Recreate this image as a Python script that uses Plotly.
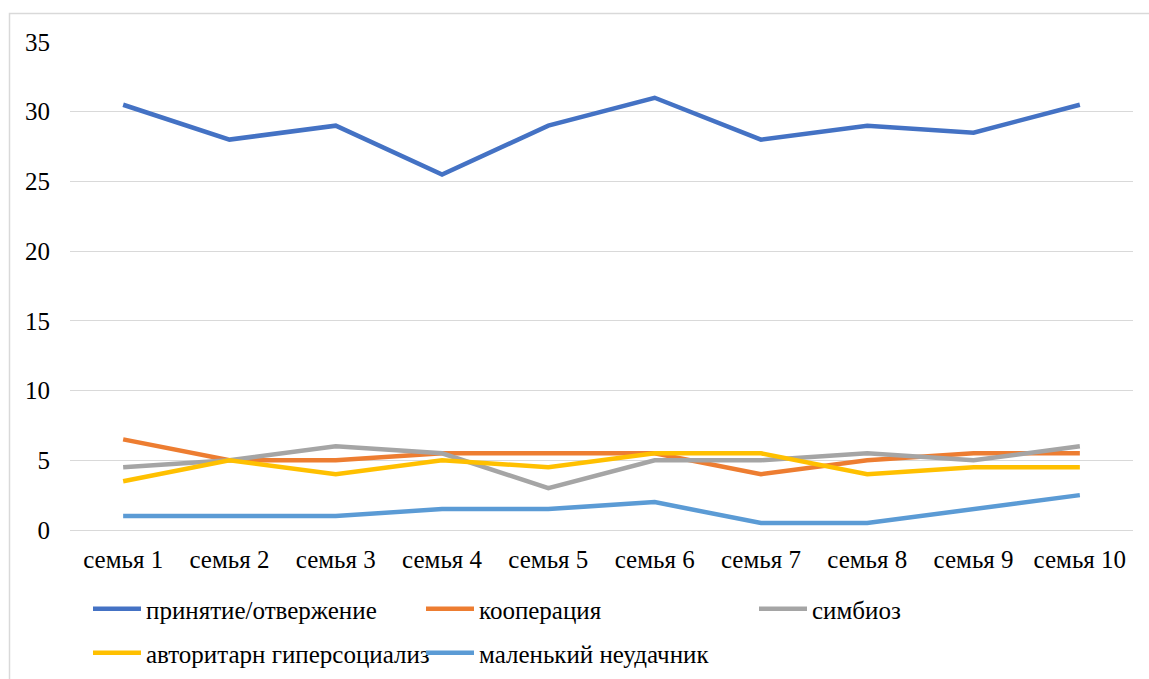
import plotly.graph_objects as go

categories = ["семья 1", "семья 2", "семья 3", "семья 4", "семья 5",
              "семья 6", "семья 7", "семья 8", "семья 9", "семья 10"]

series_names = ["принятие/отвержение", "кооперация", "симбиоз",
                "авторитарн гиперсоциализ", "маленький неудачник"]

acceptance = [30.5, 28, 29, 25.5, 29, 31, 28, 29, 28.5, 30.5]
cooperation = [6.5, 5, 5, 5.5, 5.5, 5.5, 4, 5, 5.5, 5.5]
symbiosis = [4.5, 5, 6, 5.5, 3, 5, 5, 5.5, 5, 6]
authoritarian = [3.5, 5, 4, 5, 4.5, 5.5, 5.5, 4, 4.5, 4.5]
little_loser = [1, 1, 1, 1.5, 1.5, 2, 0.5, 0.5, 1.5, 2.5]

y_ticks = [0, 5, 10, 15, 20, 25, 30, 35]

series_values = [acceptance, cooperation, symbiosis, authoritarian, little_loser]
colors = ["#4472C4", "#ED7D31", "#A5A5A5", "#FFC000", "#5B9BD5"]
legend_ids = ["legend", "legend", "legend", "legend2", "legend2"]

W, H = 1149, 679
ML, MR, MT, MB = 70, 16, 42, 149
pw, ph = W - ML - MR, H - MT - MB

def px_x(p):
    return (p - ML) / pw

def px_y(p):
    return (H - MB - p) / ph

FONT = "Liberation Serif, Times New Roman, serif"
FS = 25

fig = go.Figure()
for name, vals, col, lg in zip(series_names, series_values, colors, legend_ids):
    fig.add_trace(go.Scatter(
        x=categories, y=vals, mode="lines", name=name,
        line=dict(color=col, width=4.5), legend=lg,
    ))

legend_common = dict(
    orientation="h", xanchor="left", yanchor="middle",
    xref="container", yref="container",
    font=dict(family=FONT, size=FS, color="#000000"),
    itemwidth=48, entrywidth=270, entrywidthmode="pixels",
    bgcolor="rgba(0,0,0,0)", borderwidth=0, traceorder="normal",
    itemclick=False, itemdoubleclick=False,
)

fig.update_layout(
    width=W, height=H,
    margin=dict(l=ML, r=MR, t=MT, b=MB, pad=0, autoexpand=False),
    paper_bgcolor="white", plot_bgcolor="white",
    font=dict(family=FONT, size=FS, color="#000000"),
    showlegend=True,
    legend=dict(x=88 / W, y=1 - 609 / H, **legend_common),
    legend2=dict(x=88 / W, y=1 - 653 / H, **legend_common),
    xaxis=dict(
        type="category", range=[-0.5, len(categories) - 0.5],
        showgrid=False, zeroline=False, showline=False,
        ticks="", ticklabelstandoff=12,
        tickfont=dict(family=FONT, size=FS, color="#000000"),
        fixedrange=True,
    ),
    yaxis=dict(
        range=[0, 35], tickvals=y_ticks,
        showgrid=True, gridcolor="#D9D9D9", gridwidth=1.3,
        zeroline=True, zerolinecolor="#D9D9D9", zerolinewidth=1.3,
        showline=False, ticks="", ticklabelstandoff=19,
        tickfont=dict(family=FONT, size=FS, color="#000000"),
        fixedrange=True,
    ),
    shapes=[dict(
        type="path", xref="paper", yref="paper",
        path=f"M {px_x(9.5)},{px_y(679)} L {px_x(9.5)},{px_y(13.5)} L {px_x(1149)},{px_y(13.5)}",
        line=dict(color="#D9D9D9", width=1.5), layer="below",
    )],
)

fig.write_html(
    "out.html",
    config={"displayModeBar": False},
    post_script="document.body.style.margin='0';document.body.style.overflow='hidden';",
)
